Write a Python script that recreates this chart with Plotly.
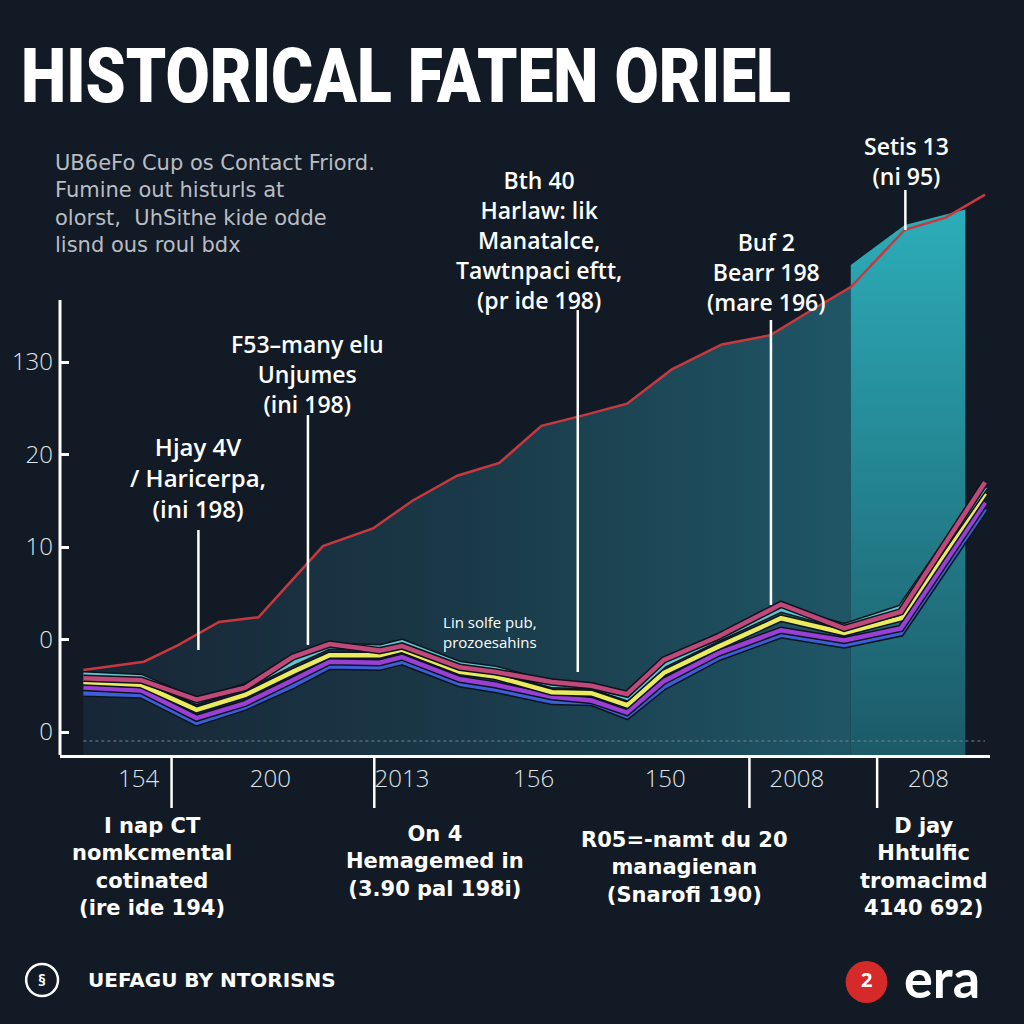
import plotly.graph_objects as go

# ---------------- data ----------------
x_tick_labels = ["154", "200", "2013", "156", "150", "2008", "208"]
y_tick_vals = [0, 10, 20, 30, 40]
y_tick_text = ["0", "0", "10", "20", "130"]

red_x = [-0.42, 0.04, 0.30, 0.61, 0.91, 1.40, 1.78, 2.08, 2.42, 2.74, 3.06,
         3.37, 3.71, 4.05, 4.43, 4.80, 5.11, 5.41, 5.82, 6.13, 6.43]
red_y = [6.7, 7.6, 9.4, 11.9, 12.4, 20.1, 22.0, 25.0, 27.7, 29.1, 33.1,
         34.2, 35.5, 39.2, 41.9, 42.9, 45.6, 48.1, 54.3, 55.6, 58.1]

panel_x = [5.41, 5.82, 6.28]
panel_y = [50.5, 54.8, 56.5]

series_x = [-0.42, 0.02, 0.44, 0.81, 1.17, 1.45, 1.83, 2.0, 2.44, 2.71,
            3.14, 3.44, 3.71, 3.99, 4.4, 4.88, 5.36, 5.79, 6.43]
blue_y = [4.2, 4.0, 1.0, 2.7, 5.0, 7.1, 7.0, 7.6, 5.2, 4.6,
          3.3, 3.2, 1.7, 4.9, 8.0, 10.5, 9.4, 10.7, 24.1]
purple_y = [4.8, 4.5, 1.5, 3.1, 5.6, 7.6, 7.5, 8.1, 5.7, 5.1,
            3.8, 3.4, 2.1, 5.5, 8.5, 11.0, 9.9, 11.2, 24.8]
yellow_y = [5.4, 5.1, 2.4, 4.0, 6.5, 8.3, 8.3, 8.9, 6.5, 6.0,
            4.3, 4.2, 2.9, 6.4, 9.2, 12.3, 10.7, 12.3, 25.8]
cyan_y = [6.2, 5.9, 3.3, 4.9, 7.5, 9.3, 9.1, 9.7, 7.3, 6.8,
          5.1, 5.0, 3.7, 7.3, 10.1, 13.3, 11.4, 13.4, 26.5]
pink_y = [5.8, 5.6, 3.5, 4.8, 8.1, 9.5, 8.8, 9.3, 7.0, 6.5,
          5.4, 5.0, 4.1, 7.8, 10.3, 13.8, 11.2, 13.0, 27.0]

separator_x = [0.25, 1.79, 4.64, 5.61]

# ---------------- layout helpers ----------------
W, H = 1024, 1024
L, R, T, B = 56, 990, 130, 755
Y_MIN, Y_MAX = (732 - B) / 9.25, (732 - T) / 9.25
X_MIN, X_MAX = (L - 135) / 132.2, (R - 135) / 132.2
BG = "#121a25"


def px(xp):
    return (xp - L) / (R - L)


def py(yp):
    return (B - yp) / (B - T)


fig = go.Figure()

# filled area under red line
fig.add_trace(go.Scatter(
    x=red_x[:18] + [red_x[17], red_x[0]],
    y=red_y[:18] + [Y_MIN, Y_MIN],
    fill="toself", mode="lines", line=dict(width=0),
    fillgradient=dict(type="horizontal",
                      colorscale=[[0, "#172636"], [0.5, "#1a3948"], [1, "#1f5666"]]),
    hoverinfo="skip", showlegend=False))

# bright panel
fig.add_trace(go.Scatter(
    x=panel_x + [panel_x[-1], panel_x[0]],
    y=panel_y + [Y_MIN, Y_MIN],
    fill="toself", mode="lines", line=dict(width=0),
    fillgradient=dict(type="vertical",
                      colorscale=[[0, "#1c5a68"], [1, "#2cadb9"]]),
    hoverinfo="skip", showlegend=False))

# red line
fig.add_trace(go.Scatter(x=red_x, y=red_y, mode="lines",
                         line=dict(color="#c8393f", width=2.5),
                         hoverinfo="skip", showlegend=False))

series = [("blue", blue_y, "#3c5fd6"), ("purple", purple_y, "#9a3fd4"),
          ("yellow", yellow_y, "#e9ea5e"), ("cyan", cyan_y, "#5ec6cf"),
          ("pink", pink_y, "#c0497a")]
for name, ys, col in series:
    fig.add_trace(go.Scatter(x=series_x, y=ys, mode="lines",
                             line=dict(color="#0c141d", width=7.5),
                             hoverinfo="skip", showlegend=False))
    fig.add_trace(go.Scatter(x=series_x, y=ys, mode="lines", name=name,
                             line=dict(color=col, width=4.5),
                             hoverinfo="skip", showlegend=False))

shapes = []
# y axis line (partial height)
shapes.append(dict(type="line", xref="paper", yref="paper", x0=0, x1=0,
                   y0=0, y1=py(300),
                   line=dict(color="white", width=3)))
# dotted baseline
shapes.append(dict(type="line", xref="x", yref="paper", x0=red_x[0], x1=red_x[-1],
                   y0=py(741), y1=py(741),
                   line=dict(color="#7a8590", width=1, dash="dot")))
# separator ticks below axis
for sx in separator_x:
    shapes.append(dict(type="line", xref="x", yref="paper", x0=sx, x1=sx,
                       y0=0, y1=py(808),
                       line=dict(color="white", width=2.5)))

# annotation pointer lines
pointer_lines = [(195, 530, 650), (305, 415, 645), (576, 310, 672),
                 (770, 320, 605), (905, 190, 230)]
for xp, y0, y1 in pointer_lines:
    shapes.append(dict(type="line", xref="paper", yref="paper",
                       x0=px(xp), x1=px(xp), y0=py(y0), y1=py(y1),
                       line=dict(color="white", width=2.5)))

# footer logos
shapes.append(dict(type="circle", xref="paper", yref="paper",
                   x0=px(22), x1=px(54), y0=py(996), y1=py(964),
                   line=dict(color="white", width=2.5), fillcolor=BG))
shapes.append(dict(type="circle", xref="paper", yref="paper",
                   x0=px(845), x1=px(887), y0=py(1003), y1=py(961),
                   line=dict(width=0), fillcolor="#d42a2a"))

annotations = []


def txt(text, xp, yp, size, color="white", family="Open Sans", weight=600,
        xanchor="center", align="center"):
    annotations.append(dict(text=text, x=px(xp), y=py(yp), xref="paper", yref="paper",
                            showarrow=False, xanchor=xanchor, yanchor="middle",
                            align=align,
                            font=dict(size=size, color=color, family=family,
                                      weight=weight)))


# title & subtitle
txt("HISTORICAL FATEN ORIEL", 15, 76, 76, family="Roboto, sans-serif",
    weight=900, xanchor="left", align="left")
txt("UB6eFo Cup os Contact Friord.<br>Fumine out histurls at<br>"
    "olorst,  UhSithe kide odde<br>lisnd ous roul bdx",
    49, 204, 21, color="#b9bdc3", family="DejaVu Sans", weight=400,
    xanchor="left", align="left")

# chart annotations
txt("Hjay 4V<br>/ Haricerpa,<br>(ini 198)", 195, 477, 24)
txt("F53–many elu<br>Unjumes<br>(ini 198)", 305, 374, 23)
txt("Bth 40<br>Harlaw: lik<br>Manatalce,<br>Tawtnpaci eftt,<br>(pr ide 198)", 537, 240, 23)
txt("Buf 2<br>Bearr 198<br>(mare 196)", 765, 272, 23)
txt("Setis 13<br>(ni 95)", 906, 161, 23)
txt("Lin solfe pub,<br>prozoesahins", 488, 632, 15, weight=400)

# bottom annotations
BF = "DejaVu Sans"
txt("I nap CT<br>nomkcmental<br>cotinated<br>(ire ide 194)", 148, 867, 21, family=BF, weight=700)
txt("On 4<br>Hemagemed in<br>(3.90 pal 198i)", 433, 861, 21, family=BF, weight=700)
txt("R05=-namt du 20<br>managienan<br>(Snarofi 190)", 683, 867, 21, family=BF, weight=700)
txt("D jay<br>Hhtulfic<br>tromacimd<br>4140 692)", 923, 867, 21, family=BF, weight=700)

# footer
txt("UEFAGU BY NTORISNS", 82, 980, 20, family=BF, weight=700, xanchor="left", align="left")
txt("§", 38, 980, 16, weight=700)
txt("2", 866, 980, 20, weight=700)
txt("era", 902, 977, 54, weight=700, xanchor="left", align="left",
    family="Lato, Open Sans, sans-serif")

fig.update_layout(
    width=W, height=H,
    paper_bgcolor=BG, plot_bgcolor="rgba(0,0,0,0)",
    margin=dict(l=L, r=W - R, t=T, b=H - B, pad=0),
    showlegend=False,
    shapes=shapes, annotations=annotations,
    xaxis=dict(range=[X_MIN, X_MAX], tickmode="array",
               tickvals=list(range(len(x_tick_labels))), ticktext=x_tick_labels,
               showgrid=False, zeroline=False, showline=True,
               linecolor="white", linewidth=3, ticks="",
               tickfont=dict(family="Open Sans", size=24, color="#dfe3e8", weight=300),
               fixedrange=True),
    yaxis=dict(range=[Y_MIN, Y_MAX], tickmode="array",
               tickvals=y_tick_vals, ticktext=y_tick_text,
               showgrid=False, zeroline=False, showline=False,
               ticks="inside", ticklen=9, tickwidth=3, tickcolor="white",
               tickfont=dict(family="Open Sans", size=24, color="#dfe3e8", weight=300),
               ticklabelstandoff=6, fixedrange=True),
)

post = """
document.body.style.margin='0';
document.body.style.background='%s';
var gd = document.getElementById('{plot_id}');
gd.querySelectorAll('.annotation-text').forEach(function(t){
  if (t.textContent.indexOf('HISTORICAL') === 0) {
    var bb = t.getBBox();
    var s = 770 / bb.width;
    t.setAttribute('transform', 'translate(' + bb.x + ',0) scale(' + s + ',1) translate(' + (-bb.x) + ',0)');
  }
});
""" % BG

fig.write_html("out.html", post_script=post, config={"displayModeBar": False})
